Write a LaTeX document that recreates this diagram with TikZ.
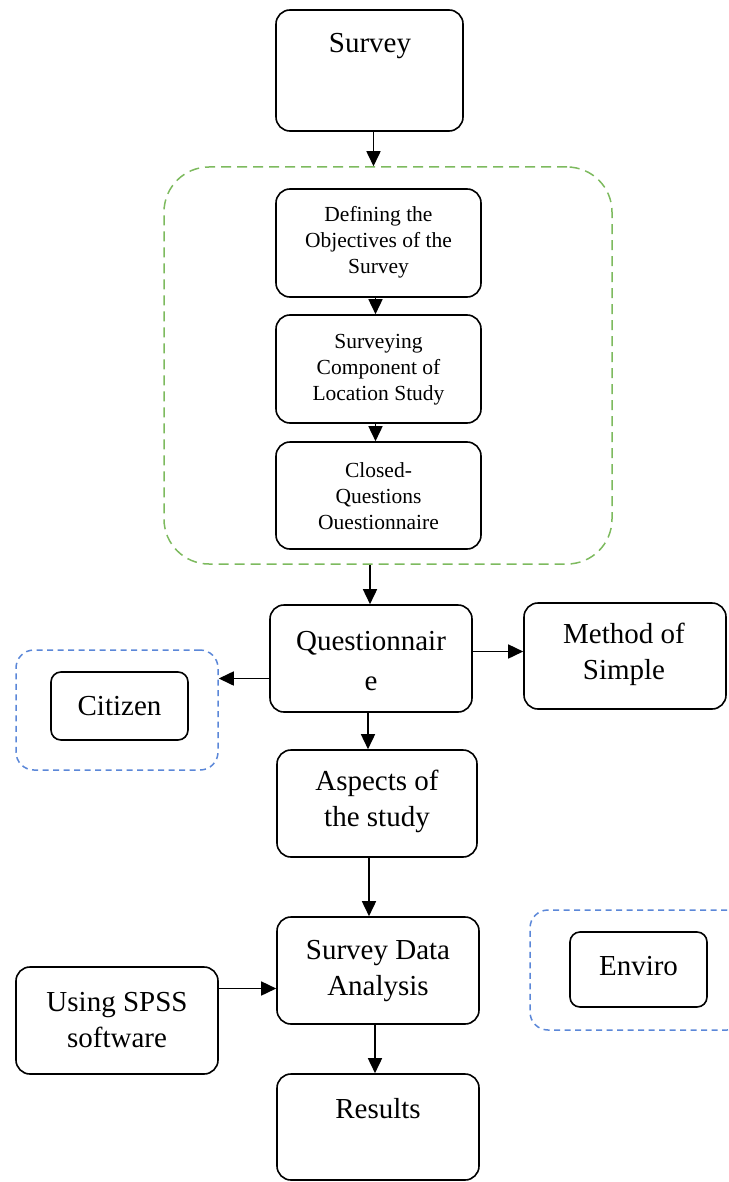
\documentclass[tikz,border=0pt]{standalone}
\usepackage{fontspec}
\setmainfont{Liberation Serif}
\usetikzlibrary{arrows.meta,calc}
\definecolor{grpgreen}{HTML}{7DBA5E}
\definecolor{grpblue}{HTML}{5B87D8}
\begin{document}
\begin{tikzpicture}[x=1pt,y=-1pt,
  box/.style={draw, line width=1.6pt, rounded corners=14pt, inner sep=0pt},
  sbox/.style={draw, line width=1.6pt, rounded corners=10pt, inner sep=0pt},
  ggroup/.style={draw=grpgreen, line width=1.5pt, dash pattern=on 10pt off 6pt, rounded corners=45pt, inner sep=0pt},
  bgroup/.style={draw=grpblue, line width=1.5pt, dash pattern=on 6pt off 4.5pt, rounded corners=18pt, inner sep=0pt},
  txt/.style={inner sep=0pt, align=center, font=\fontsize{29}{36}\selectfont},
  stxt/.style={inner sep=0pt, align=center, font=\fontsize{21.5}{26}\selectfont},
  arr/.style={line width=1.6pt, -{Triangle[length=15pt,width=14pt]}}]
\useasboundingbox (0,0) rectangle (728,1182);
\clip (0,0) rectangle (728,1182);
% groups
\node[ggroup, minimum width=448pt, minimum height=397pt] (green) at (388,365.5) {};
\node[bgroup, minimum width=202pt, minimum height=120pt] (cgrp) at (117,710) {};
\node[bgroup, minimum width=215pt, minimum height=120pt] (egrp) at (637.5,970) {};
% boxes
\node[box, minimum width=187pt, minimum height=121pt] (survey) at (369.5,70.5) {};
\node[txt] (t-survey) at (370,46) {Survey};
\node[box, minimum width=205pt, minimum height=108pt] (def) at (378.5,243) {};
\node[stxt] (t-def) at (378.5,242) {Defining the\\Objectives of the\\Survey};
\node[box, minimum width=205pt, minimum height=108pt] (surv) at (378.5,369) {};
\node[stxt] (t-surv) at (378.5,370) {Surveying\\Component of\\Location Study};
\node[box, minimum width=205pt, minimum height=107pt] (closed) at (378.5,495.5) {};
\node[stxt] (t-closed) at (378.5,496) {Closed-\\Questions\\Ouestionnaire};
\node[box, minimum width=202pt, minimum height=107pt] (quest) at (371,658.5) {};
\node[txt, font=\fontsize{29}{40}\selectfont] (t-quest) at (371,661) {Questionnair\\e};
\node[box, minimum width=202pt, minimum height=106pt] (method) at (625,656) {};
\node[txt] (t-method) at (624,654) {Method of\\Simple};
\node[sbox, minimum width=137pt, minimum height=68pt] (citizen) at (119.5,706) {};
\node[txt] (t-citizen) at (119.5,706) {Citizen};
\node[box, minimum width=200pt, minimum height=107pt] (aspects) at (377,803.5) {};
\node[txt] (t-aspects) at (377,801) {Aspects of\\the study};
\node[box, minimum width=202pt, minimum height=107pt] (sda) at (378,970.5) {};
\node[txt] (t-sda) at (378,971) {Survey Data\\Analysis};
\node[box, minimum width=202pt, minimum height=107pt] (spss) at (117,1020.5) {};
\node[txt] (t-spss) at (117,1020) {Using SPSS\\software};
\node[sbox, minimum width=137pt, minimum height=75pt] (enviro) at (638.5,969.5) {};
\node[txt] (t-enviro) at (638.5,966) {Enviro};
\node[box, minimum width=202pt, minimum height=106pt] (results) at (378,1127) {};
\node[txt] (t-results) at (378,1109) {Results};
% connectors
\coordinate (s1) at ([xshift=4pt]survey.south);
\draw[arr] (s1) -- (s1 |- green.north);
\coordinate (d1) at ([xshift=-3pt]def.south);
\draw[arr] (d1) -- (d1 |- surv.north);
\coordinate (d2) at ([xshift=-3pt]surv.south);
\draw[arr] (d2) -- (d2 |- closed.north);
\coordinate (g1) at ([xshift=-1pt]quest.north);
\draw[arr] (g1 |- green.south) -- (g1);
\coordinate (qw) at ([yshift=-20pt]quest.west);
\draw[arr] (qw) -- (qw -| cgrp.east);
\coordinate (qe) at ([yshift=7pt]quest.east);
\draw[arr] (qe) -- (qe -| method.west);
\coordinate (q2) at ([xshift=-3pt]quest.south);
\draw[arr] (q2) -- (q2 |- aspects.north);
\coordinate (a2) at ([xshift=-8pt]aspects.south);
\draw[arr] (a2) -- (a2 |- sda.north);
\coordinate (se) at ([yshift=32pt]spss.east);
\draw[arr] (se) -- (se -| sda.west);
\coordinate (r1) at ([xshift=-3pt]sda.south);
\draw[arr] (r1) -- (r1 |- results.north);
\end{tikzpicture}
\end{document}
